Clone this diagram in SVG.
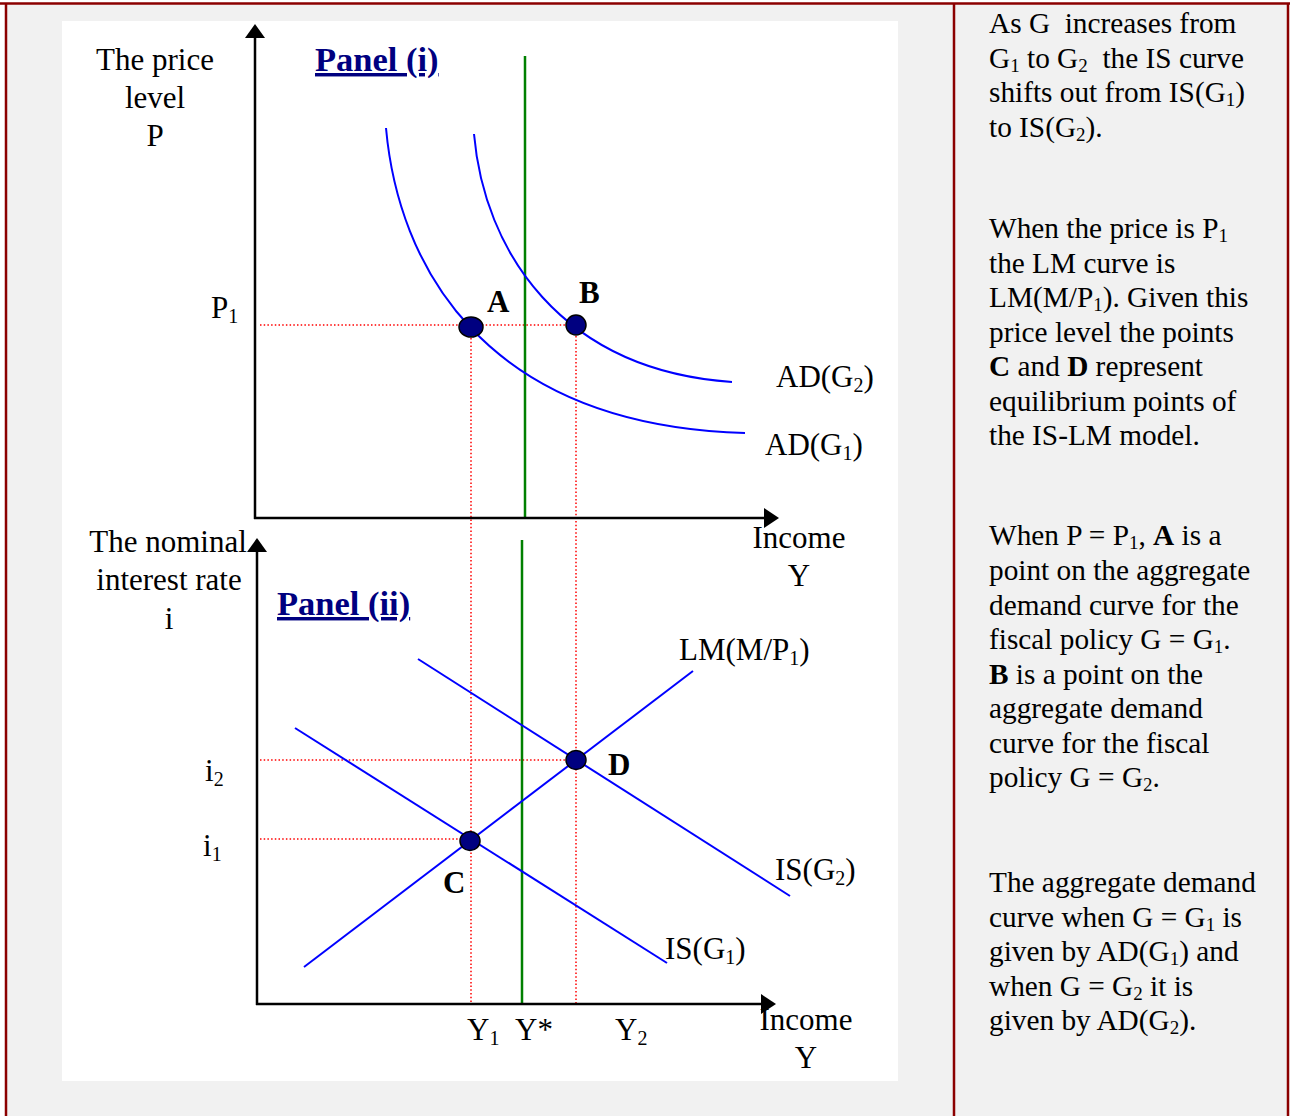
<svg xmlns="http://www.w3.org/2000/svg" width="1290" height="1116" viewBox="0 0 1290 1116">
<defs>
<style>
.t{font-family:"Liberation Serif","Times New Roman",serif;font-size:31px;fill:#000}
.r{font-family:"Liberation Serif","Times New Roman",serif;font-size:29.3px;fill:#000}
.b{font-weight:bold}
.pn{font-family:"Liberation Serif","Times New Roman",serif;font-size:34.5px;font-weight:bold;fill:#000080;text-decoration:underline;text-decoration-skip-ink:none}
.ax{stroke:#000;stroke-width:2.5;fill:none}
.cv{stroke:#0000ff;stroke-width:2;fill:none}
.gr{stroke:#008000;stroke-width:2.5}
.dt{stroke:#ff0000;stroke-width:1.5;stroke-dasharray:1.5 2.2;fill:none}
.pt{fill:#000080;stroke:#000;stroke-width:1.5}
.bd{stroke:#8b0000;stroke-width:2.5}
</style>
</defs>
<rect x="0" y="0" width="1290" height="1116" fill="#ffffff"/>
<rect x="6" y="4" width="1282" height="1112" fill="#f1f1f1"/>
<rect x="62" y="21" width="836" height="1060" fill="#ffffff"/>
<g id="borders">
<line class="bd" x1="0" y1="3.5" x2="1290" y2="3.5"/>
<line class="bd" x1="6" y1="3" x2="6" y2="1116"/>
<line class="bd" x1="954" y1="3" x2="954" y2="1116"/>
<line class="bd" x1="1288" y1="3" x2="1288" y2="1116"/>
</g>
<g id="connectors">
<g id="guides">
<line class="dt" x1="260" y1="325" x2="576" y2="325"/>
<line class="dt" x1="471" y1="327" x2="471" y2="1004"/>
<line class="dt" x1="576" y1="325" x2="576" y2="1004"/>
<line class="dt" x1="260" y1="760" x2="576" y2="760"/>
<line class="dt" x1="260" y1="839" x2="470" y2="839"/>
</g>
<line class="gr" x1="525" y1="56" x2="525" y2="518"/>
<line class="gr" x1="522" y1="540" x2="522" y2="1004"/>
<path class="cv" d="M386,128 C398,262 480,425 745,433"/>
<path class="cv" d="M474,134 C484,250 560,370 732,382"/>
<line class="cv" x1="304" y1="967" x2="693" y2="671"/>
<line class="cv" x1="418" y1="659" x2="790" y2="896"/>
<line class="cv" x1="295" y1="728" x2="667" y2="963"/>
<g id="axes">
<line class="ax" x1="255" y1="36" x2="255" y2="519"/>
<line class="ax" x1="254" y1="518" x2="766" y2="518"/>
<polygon points="255,24 245,38 265,38" fill="#000"/>
<polygon points="779,518 764,508 764,528" fill="#000"/>
<line class="ax" x1="257" y1="550" x2="257" y2="1005"/>
<line class="ax" x1="256" y1="1004" x2="763" y2="1004"/>
<polygon points="257,538 247,552 267,552" fill="#000"/>
<polygon points="776,1004 761,994 761,1014" fill="#000"/>
</g>
</g>
<g id="point-A"><ellipse class="pt" cx="471" cy="327" rx="12" ry="10"/><text class="t b" x="487" y="312">A</text></g>
<g id="point-B"><ellipse class="pt" cx="576" cy="325" rx="10" ry="10"/><text class="t b" x="579" y="303">B</text></g>
<g id="point-C"><ellipse class="pt" cx="470" cy="841" rx="10" ry="9.5"/><text class="t b" x="443" y="893">C</text></g>
<g id="point-D"><ellipse class="pt" cx="576" cy="760" rx="10" ry="9.5"/><text class="t b" x="608" y="775">D</text></g>
<g id="panel-i-labels">
<text class="pn" x="315" y="71">Panel (i)</text>
<text class="t" x="155" y="70" text-anchor="middle">The price</text>
<text class="t" x="155" y="108" text-anchor="middle">level</text>
<text class="t" x="155" y="146" text-anchor="middle">P</text>
<text class="t" x="211" y="318">P<tspan font-size="20" dy="5">1</tspan></text>
<text class="t" x="799" y="548" text-anchor="middle">Income</text>
<text class="t" x="799" y="586" text-anchor="middle">Y</text>
<text class="t" x="776" y="387">AD(G<tspan font-size="20" dy="5">2</tspan><tspan dy="-5">)</tspan></text>
<text class="t" x="765" y="455">AD(G<tspan font-size="20" dy="5">1</tspan><tspan dy="-5">)</tspan></text>
</g>
<g id="panel-ii-labels">
<text class="pn" x="277" y="615">Panel (ii)</text>
<text class="t" x="168" y="552" text-anchor="middle">The nominal</text>
<text class="t" x="169" y="590" text-anchor="middle">interest rate</text>
<text class="t" x="169" y="629" text-anchor="middle">i</text>
<text class="t" x="205" y="781">i<tspan font-size="20" dy="5">2</tspan></text>
<text class="t" x="203" y="856">i<tspan font-size="20" dy="5">1</tspan></text>
<text class="t" x="679" y="660">LM(M/P<tspan font-size="20" dy="5">1</tspan><tspan dy="-5">)</tspan></text>
<text class="t" x="775" y="880">IS(G<tspan font-size="20" dy="5">2</tspan><tspan dy="-5">)</tspan></text>
<text class="t" x="665" y="959">IS(G<tspan font-size="20" dy="5">1</tspan><tspan dy="-5">)</tspan></text>
<text class="t" x="467" y="1040">Y<tspan font-size="20" dy="5">1</tspan></text>
<text class="t" x="515" y="1040">Y*</text>
<text class="t" x="615" y="1040">Y<tspan font-size="20" dy="5">2</tspan></text>
<text class="t" x="806" y="1030" text-anchor="middle">Income</text>
<text class="t" x="806" y="1068" text-anchor="middle">Y</text>
</g>
<g id="note-1">
<text class="r" x="989" y="33" xml:space="preserve">As G  increases from</text>
<text class="r" x="989" y="68" xml:space="preserve">G<tspan font-size="19" dy="4">1</tspan><tspan dy="-4"> to G</tspan><tspan font-size="19" dy="4">2</tspan><tspan dy="-4">  the IS curve</tspan></text>
<text class="r" x="989" y="102">shifts out from IS(G<tspan font-size="19" dy="4">1</tspan><tspan dy="-4">)</tspan></text>
<text class="r" x="989" y="137">to IS(G<tspan font-size="19" dy="4">2</tspan><tspan dy="-4">).</tspan></text>
</g>
<g id="note-2">
<text class="r" x="989" y="238">When the price is P<tspan font-size="19" dy="4">1</tspan></text>
<text class="r" x="989" y="272.5">the LM curve is</text>
<text class="r" x="989" y="307">LM(M/P<tspan font-size="19" dy="4">1</tspan><tspan dy="-4">). Given this</tspan></text>
<text class="r" x="989" y="341.5">price level the points</text>
<text class="r" x="989" y="376"><tspan class="b">C</tspan> and <tspan class="b">D</tspan> represent</text>
<text class="r" x="989" y="410.5">equilibrium points of</text>
<text class="r" x="989" y="445">the IS-LM model.</text>
</g>
<g id="note-3">
<text class="r" x="989" y="545">When P = P<tspan font-size="19" dy="4">1</tspan><tspan dy="-4">, </tspan><tspan class="b">A</tspan> is a</text>
<text class="r" x="989" y="580">point on the aggregate</text>
<text class="r" x="989" y="614.5">demand curve for the</text>
<text class="r" x="989" y="649">fiscal policy G = G<tspan font-size="19" dy="4">1</tspan><tspan dy="-4">.</tspan></text>
<text class="r" x="989" y="683.5"><tspan class="b">B</tspan> is a point on the</text>
<text class="r" x="989" y="718">aggregate demand</text>
<text class="r" x="989" y="752.5">curve for the fiscal</text>
<text class="r" x="989" y="787">policy G = G<tspan font-size="19" dy="4">2</tspan><tspan dy="-4">.</tspan></text>
</g>
<g id="note-4">
<text class="r" x="989" y="892">The aggregate demand</text>
<text class="r" x="989" y="926.5">curve when G = G<tspan font-size="19" dy="4">1</tspan><tspan dy="-4"> is</tspan></text>
<text class="r" x="989" y="961">given by AD(G<tspan font-size="19" dy="4">1</tspan><tspan dy="-4">) and</tspan></text>
<text class="r" x="989" y="995.5">when G = G<tspan font-size="19" dy="4">2</tspan><tspan dy="-4"> it is</tspan></text>
<text class="r" x="989" y="1030">given by AD(G<tspan font-size="19" dy="4">2</tspan><tspan dy="-4">).</tspan></text>
</g>
</svg>
